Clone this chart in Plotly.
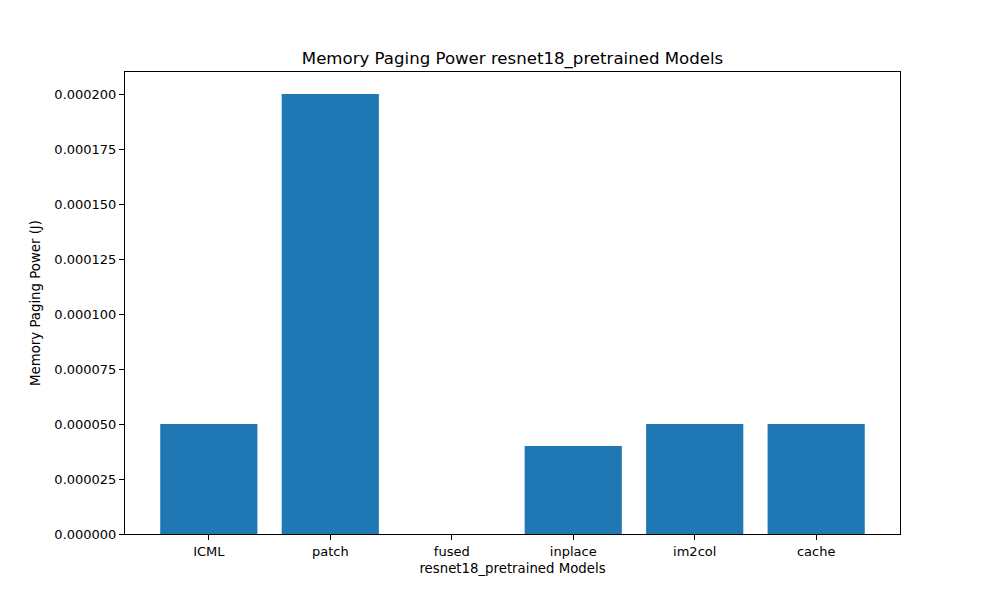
import plotly.graph_objects as go

categories = ["ICML", "patch", "fused", "inplace", "im2col", "cache"]
values = [0.00005, 0.0002, 0.0, 0.00004, 0.00005, 0.00005]
y_ticks = [0.0, 0.000025, 0.00005, 0.000075, 0.0001, 0.000125, 0.00015, 0.000175, 0.0002]

fig = go.Figure(go.Bar(
    x=list(range(len(categories))), y=values, width=0.8,
    marker=dict(color="#1f77b4", line=dict(width=0)),
))

font = "DejaVu Sans"
# page has 8px default body margin; offset margins accordingly
fig.update_layout(
    width=1000, height=600,
    margin=dict(l=117, r=108, t=64, b=74),
    paper_bgcolor="white", plot_bgcolor="white",
    font=dict(family=font, size=13, color="black"),
    showlegend=False,
    title=dict(text="Memory Paging Power resnet18_pretrained Models",
               x=(117 + 892) / 2 / 1000, xanchor="center",
               y=1 - 50 / 600, yanchor="middle",
               font=dict(size=16.6, family=font, color="black")),
    xaxis=dict(
        range=[-0.69, 5.69],
        tickmode="array", tickvals=list(range(len(categories))), ticktext=categories,
        ticks="outside", ticklen=5, tickwidth=1, tickcolor="black",
        showline=True, linecolor="black", linewidth=1, mirror=True,
        showgrid=False, zeroline=False,
        title=dict(text="resnet18_pretrained Models", standoff=6, font=dict(size=13.3)),
        tickfont=dict(size=13),
    ),
    yaxis=dict(
        range=[0, 0.00021],
        tickmode="array", tickvals=y_ticks, ticktext=[f"{v:.6f}" for v in y_ticks],
        ticks="outside", ticklen=5, tickwidth=1, tickcolor="black",
        showline=True, linecolor="black", linewidth=1, mirror=True,
        showgrid=False, zeroline=False,
        title=dict(text="Memory Paging Power (J)", standoff=10, font=dict(size=13.3)),
        tickfont=dict(size=13),
    ),
)

fig.write_html("out.html")
